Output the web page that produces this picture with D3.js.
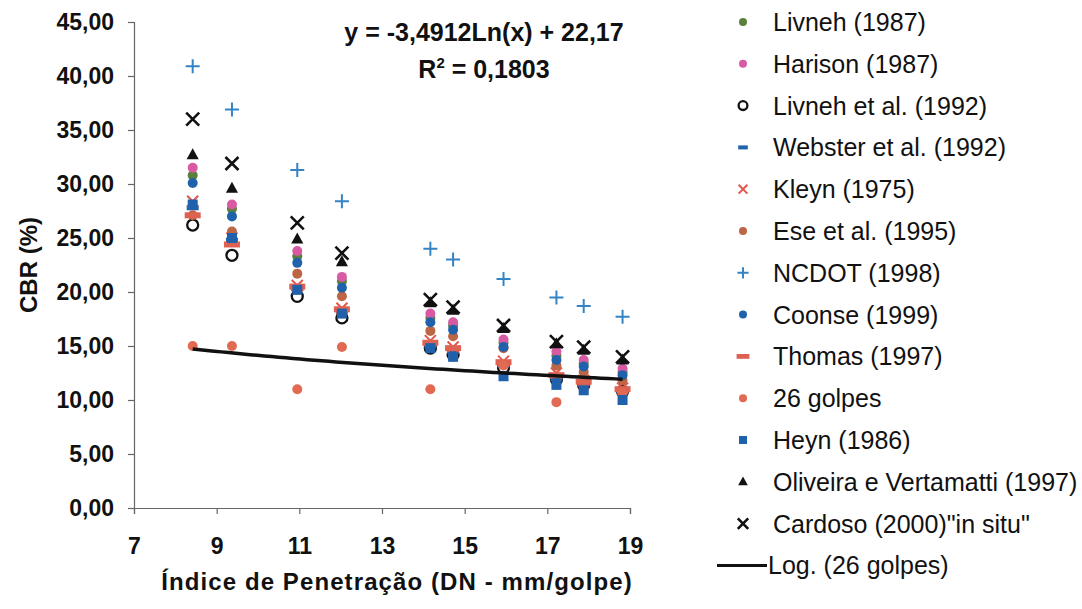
<!DOCTYPE html>
<html>
<head>
<meta charset="utf-8">
<script src="https://cdn.jsdelivr.net/npm/d3@7"></script>
<style>
  html, body { margin: 0; padding: 0; background: #fff; }
  svg { display: block; }
  text { font-family: "Liberation Sans", Arial, sans-serif; fill: #111; }
</style>
</head>
<body>
<svg id="chart" width="1082" height="609"></svg>
<script>
// Penetration index (DN, mm/golpe) for each test point
const dnValues = [8.42, 9.37, 10.95, 12.03, 14.17, 14.72, 15.94, 17.22, 17.88, 18.82];

// CBR (%) by correlation / test
const livneh1987   = [30.8, 27.7, 23.3, 21.0, 17.6, 16.9, 15.3, 14.1, 13.4, 12.6];
const harison1987  = [31.5, 28.1, 23.8, 21.4, 18.0, 17.2, 15.6, 14.5, 13.7, 12.9];
const livneh1992   = [26.2, 23.4, 19.6, 17.6, 14.8, 14.2, 13.0, 11.9, 11.4, 10.8];
const webster1992  = [27.8, 24.8, 20.3, 18.2, 15.0, 14.5, 13.2, 12.0, 11.5, 10.8];
const kleyn1975    = [28.4, 25.0, 20.6, 18.5, 15.5, 14.9, 13.6, 12.5, 11.8, 11.1];
const ese1995      = [27.1, 25.6, 21.7, 19.6, 16.4, 15.9, 14.8, 13.2, 12.6, 11.8];
const ncdot1998    = [40.9, 36.9, 31.3, 28.4, 24.0, 23.0, 21.2, 19.5, 18.7, 17.7];
const coonse1999   = [30.1, 27.0, 22.7, 20.4, 17.2, 16.5, 14.9, 13.7, 13.1, 12.3];
const thomas1997   = [27.1, 24.4, 20.5, 18.4, 15.3, 14.8, 13.5, 12.3, 11.7, 11.0];
const golpes26     = [15.0, 15.0, 11.0, 14.9, 11.0, 14.0, 13.2, 9.8, 11.0, 10.6];
const heyn1986     = [28.1, 25.0, 20.2, 18.0, 14.8, 14.0, 12.2, 11.4, 10.9, 10.0];
const oliveira1997 = [32.7, 29.6, 24.9, 22.8, 19.0, 18.3, 16.6, 15.2, 14.6, 13.7];
const cardoso2000  = [36.0, 31.9, 26.4, 23.6, 19.3, 18.6, 16.9, 15.4, 14.9, 14.0];

const seriesNames = [
  "Livneh (1987)", "Harison (1987)", "Livneh et al. (1992)", "Webster et al. (1992)",
  "Kleyn (1975)", "Ese et al. (1995)", "NCDOT (1998)", "Coonse (1999)",
  "Thomas (1997)", "26 golpes", "Heyn (1986)", "Oliveira e Vertamatti (1997)",
  "Cardoso (2000)\"in situ\""
];
const seriesValues = [
  livneh1987, harison1987, livneh1992, webster1992, kleyn1975, ese1995, ncdot1998,
  coonse1999, thomas1997, golpes26, heyn1986, oliveira1997, cardoso2000
];
const trendName = "Log. (26 golpes)";

// Logarithmic trend of the 26 golpes series
const trendA = -3.4912, trendB = 22.17;
const trendLabel = "y = -3,4912Ln(x) + 22,17";
const r2Label = "0,1803";

const xTicks = [7, 9, 11, 13, 15, 17, 19];
const yTicks = [0, 5, 10, 15, 20, 25, 30, 35, 40, 45];

// Marker style per series (same order as the names)
const styles = [
  { shape: "dot",    color: "#5b7f3c" },
  { shape: "dot",    color: "#d75aa3" },
  { shape: "ring",   color: "#111" },
  { shape: "dashS",  color: "#1f62ab" },
  { shape: "x",      color: "#e2564c" },
  { shape: "dot",    color: "#bd6646" },
  { shape: "plus",   color: "#3483c4" },
  { shape: "dot",    color: "#1f62ab" },
  { shape: "dashL",  color: "#dd6252" },
  { shape: "dot",    color: "#e36a52" },
  { shape: "square", color: "#1f62ab" },
  { shape: "tri",    color: "#111" },
  { shape: "xbig",   color: "#111" }
];

const svg = d3.select("#chart");

const x = d3.scaleLinear().domain([7, 19]).range([134, 630]);
const y = d3.scaleLinear().domain([0, 45]).range([508, 22]);

const fmt = v => d3.format(".2f")(v).replace(".", ",");

// Axes
const gx = svg.append("g").attr("transform", `translate(0,${y(0)})`)
  .call(d3.axisBottom(x).tickValues(xTicks).tickSize(6).tickPadding(24).tickFormat(d3.format("d")));
const gy = svg.append("g").attr("transform", `translate(${x(7)},0)`)
  .call(d3.axisLeft(y).tickValues(yTicks).tickSize(6).tickPadding(14).tickFormat(fmt));

[gx, gy].forEach(g => {
  g.select(".domain").attr("stroke", "#666").attr("stroke-width", 1.2);
  g.selectAll(".tick line").attr("stroke", "#666").attr("stroke-width", 1.2);
  g.selectAll(".tick text")
    .style("font-family", "'Liberation Sans', Arial, sans-serif")
    .style("font-weight", "bold").style("font-size", "23px").attr("fill", "#111");
});

// Axis titles
svg.append("text")
  .attr("transform", `translate(31,${(y(0) + y(45)) / 2}) rotate(-90)`)
  .attr("text-anchor", "middle").attr("dominant-baseline", "middle")
  .style("font-weight", "bold").style("font-size", "24px")
  .text("CBR (%)");

svg.append("text")
  .attr("x", 397).attr("y", 590)
  .attr("text-anchor", "middle")
  .style("font-weight", "bold").style("font-size", "24px").style("letter-spacing", "1.1px")
  .text("Índice de Penetração (DN - mm/golpe)");

// Draws one marker of the given shape at (cx, cy)
function drawMarker(g, shape, color, cx, cy, s) {
  switch (shape) {
    case "dot":
      g.append("circle").attr("cx", cx).attr("cy", cy).attr("r", 5 * s).attr("fill", color);
      break;
    case "ring":
      g.append("circle").attr("cx", cx).attr("cy", cy).attr("r", 5.5 * s)
        .attr("fill", "none").attr("stroke", color).attr("stroke-width", 2.3);
      break;
    case "dashS":
      g.append("rect").attr("x", cx - 6 * s).attr("y", cy - 2.5 * s)
        .attr("width", 12 * s).attr("height", 5 * s).attr("fill", color);
      break;
    case "dashL":
      g.append("rect").attr("x", cx - 8 * s).attr("y", cy - 3 * s)
        .attr("width", 16 * s).attr("height", 6 * s).attr("fill", color);
      break;
    case "square":
      g.append("rect").attr("x", cx - 5 * s).attr("y", cy - 5 * s)
        .attr("width", 10 * s).attr("height", 10 * s).attr("fill", color);
      break;
    case "tri": {
      const h = 11 * s;
      g.append("path")
        .attr("d", `M${cx},${cy - h * 0.6} L${cx + h * 0.55},${cy + h * 0.4} L${cx - h * 0.55},${cy + h * 0.4} Z`)
        .attr("fill", color);
      break;
    }
    case "plus": {
      const a = 7 * s;
      g.append("path").attr("d", `M${cx - a},${cy} H${cx + a} M${cx},${cy - a} V${cy + a}`)
        .attr("stroke", color).attr("stroke-width", 2).attr("fill", "none");
      break;
    }
    case "x":
    case "xbig": {
      const a = (shape === "xbig" ? 6.5 : 5.5) * s;
      g.append("path")
        .attr("d", `M${cx - a},${cy - a} L${cx + a},${cy + a} M${cx - a},${cy + a} L${cx + a},${cy - a}`)
        .attr("stroke", color).attr("stroke-width", shape === "xbig" ? 2.6 : 2).attr("fill", "none");
      break;
    }
  }
}

// Data points, in series order
const plot = svg.append("g");
seriesValues.forEach((vals, i) => {
  const g = plot.append("g");
  vals.forEach((v, j) => drawMarker(g, styles[i].shape, styles[i].color, x(dnValues[j]), y(v), 1));
});

// Trend line over the DN range of the data
const xMin = d3.min(dnValues), xMax = d3.max(dnValues);
const trendPts = d3.range(0, 61).map(k => {
  const xv = xMin + (xMax - xMin) * k / 60;
  return [xv, trendA * Math.log(xv) + trendB];
});
plot.append("path")
  .datum(trendPts)
  .attr("d", d3.line().x(d => x(d[0])).y(d => y(d[1])))
  .attr("fill", "none").attr("stroke", "#111").attr("stroke-width", 3.5);

// Trend equation
const eq = svg.append("g");
eq.append("text").attr("x", 484).attr("y", 41).attr("text-anchor", "middle")
  .style("font-weight", "bold").style("font-size", "25px").text(trendLabel);
const r2 = eq.append("text").attr("x", 484).attr("y", 78).attr("text-anchor", "middle")
  .style("font-weight", "bold").style("font-size", "25px");
r2.append("tspan").text("R");
r2.append("tspan").attr("dy", -10).style("font-size", "15px").text("2");
r2.append("tspan").attr("dy", 10).text(" = " + r2Label);

// Legend
const legend = svg.append("g");
const rowH = 41.8, row0 = 22;
seriesNames.forEach((name, i) => {
  const cy = row0 + i * rowH;
  drawMarker(legend, styles[i].shape, styles[i].color, 743, cy, 0.8);
  legend.append("text").attr("x", 773).attr("y", cy).attr("dominant-baseline", "central")
    .style("font-size", "25px").text(name);
});
{
  const cy = row0 + seriesNames.length * rowH;
  legend.append("line").attr("x1", 717).attr("x2", 767).attr("y1", cy).attr("y2", cy)
    .attr("stroke", "#111").attr("stroke-width", 3);
  legend.append("text").attr("x", 768).attr("y", cy).attr("dominant-baseline", "central")
    .style("font-size", "25px").text(trendName);
}
</script>
</body>
</html>
